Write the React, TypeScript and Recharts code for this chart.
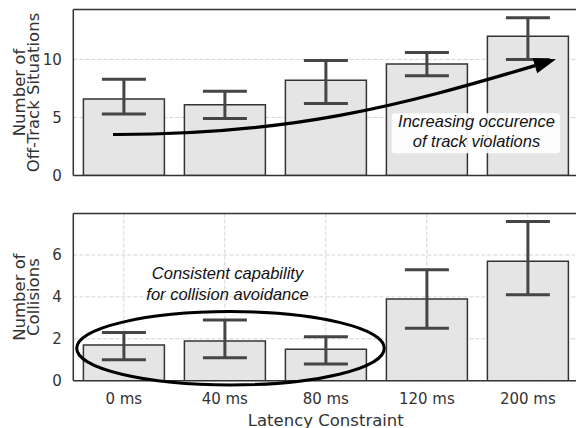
import React from 'react';
import { BarChart, Bar, XAxis, YAxis, CartesianGrid, ErrorBar, ReferenceLine } from 'recharts';

const categories = ['0 ms', '40 ms', '80 ms', '120 ms', '200 ms'];
const offTrackMean = [6.6, 6.1, 8.2, 9.6, 12.0];
const offTrackLow = [5.3, 4.9, 6.2, 8.6, 10.0];
const offTrackHigh = [8.3, 7.25, 9.9, 10.6, 13.6];
const collisionMean = [1.7, 1.9, 1.5, 3.9, 5.7];
const collisionLow = [1.0, 1.1, 0.8, 2.5, 4.1];
const collisionHigh = [2.3, 2.9, 2.1, 5.3, 7.6];
const offTrackTicks = [0, 5, 10];
const collisionTicks = [0, 2, 4, 6];
const offTrackMax = 14.3;
const collisionMax = 7.98;

const offTrackData = categories.map((c, i) => ({
  name: c,
  value: offTrackMean[i],
  err: [offTrackMean[i] - offTrackLow[i], offTrackHigh[i] - offTrackMean[i]],
}));
const collisionData = categories.map((c, i) => ({
  name: c,
  value: collisionMean[i],
  err: [collisionMean[i] - collisionLow[i], collisionHigh[i] - collisionMean[i]],
}));

const SANS = '"DejaVu Sans", Verdana, sans-serif';
const ITALIC = '"Liberation Sans", Arial, sans-serif';
const TEXT = '#333';
const CHART_W = 600;
const Y_W = 73.3;
const RIGHT_M = 21.7;

const axisLineStyle = { stroke: '#333', strokeWidth: 1.5 };
const tickStyle = { fill: TEXT, fontSize: 15, fontFamily: SANS };

function Panel(props: {
  data: any[];
  max: number;
  ticks: number[];
  height: number;
  top: number;
  xHeight: number;
  showX: boolean;
}) {
  const { data, max, ticks, height, top, xHeight, showX } = props;
  return (
    <BarChart
      width={CHART_W}
      height={height}
      data={data}
      margin={{ top, right: RIGHT_M, bottom: 0, left: 0 }}
      barCategoryGap="10%"
    >
      <CartesianGrid stroke="#d4d4d4" strokeDasharray="4 2" strokeWidth={1} />
      <XAxis
        dataKey="name"
        height={xHeight}
        tick={showX ? tickStyle : false}
        tickSize={0}
        tickMargin={12.5}
        axisLine={axisLineStyle}
        interval={0}
        label={
          showX
            ? { value: 'Latency Constraint', position: 'insideBottom', offset: 2.5, fill: TEXT, fontSize: 16.5, fontFamily: SANS }
            : undefined
        }
      />
      <YAxis
        type="number"
        domain={[0, max]}
        ticks={ticks}
        width={Y_W}
        tickSize={0}
        tickMargin={11.5}
        axisLine={axisLineStyle}
        tick={tickStyle}
        allowDataOverflow
        interval={0}
      />
      <Bar dataKey="value" fill="#e5e5e5" stroke="#333" strokeWidth={1.5} isAnimationActive={false}>
        <ErrorBar dataKey="err" width={22} strokeWidth={3} stroke="#454545" direction="y" isAnimationActive={false} />
      </Bar>
      <ReferenceLine y={max} stroke="#333" strokeWidth={1.5} />
    </BarChart>
  );
}

export default function App() {
  const topCy = (9.5 + 175.5) / 2;
  const botCy = (213.5 + 380.7) / 2;
  return (
    <div
      style={{
        position: 'absolute',
        left: 0,
        top: 0,
        width: 576,
        height: 428,
        overflow: 'hidden',
        background: '#fff',
      }}
    >
      <div style={{ position: 'absolute', left: 0, top: 0 }}>
        <Panel data={offTrackData} max={offTrackMax} ticks={offTrackTicks} height={190} top={9.5} xHeight={14.5} showX={false} />
      </div>
      <div style={{ position: 'absolute', left: 0, top: 190 }}>
        <Panel data={collisionData} max={collisionMax} ticks={collisionTicks} height={238} top={23.5} xHeight={47.3} showX={true} />
      </div>
      <svg
        width={576}
        height={428}
        style={{ position: 'absolute', left: 0, top: 0, pointerEvents: 'none' }}
      >
        {/* Y axis labels */}
        <g fill={TEXT} fontFamily={SANS} fontSize={16.5} textAnchor="middle">
          <text transform={`translate(25, ${topCy}) rotate(-90)`}>Number of</text>
          <text transform={`translate(39, ${topCy}) rotate(-90)`}>Off-Track Situations</text>
          <text transform={`translate(25, ${botCy}) rotate(-90)`}>Number of</text>
          <text transform={`translate(39, ${botCy}) rotate(-90)`}>Collisions</text>
        </g>
        {/* trend arrow */}
        <path
          d="M113,134.5 C290,135 400,106 535,65.6"
          fill="none"
          stroke="#000"
          strokeWidth={3.2}
        />
        <polygon points="556,59.3 532.6,57.9 537.2,73.3" fill="#000" />
        <rect x={391.7} y={113.3} width={168.3} height={40} rx={3} fill="#fff" fillOpacity={0.9} />
        <g fill="#111" fontFamily={ITALIC} fontStyle="italic" fontSize={16.5} textAnchor="middle">
          <text x={476.5} y={126.7}>Increasing occurence</text>
          <text x={476.5} y={147.3}>of track violations</text>
          <text x={227.5} y={279.3}>Consistent capability</text>
          <text x={227.5} y={300}>for collision avoidance</text>
        </g>
        <ellipse cx={230.5} cy={348.3} rx={153.8} ry={36.7} fill="none" stroke="#000" strokeWidth={3} />
      </svg>
    </div>
  );
}
